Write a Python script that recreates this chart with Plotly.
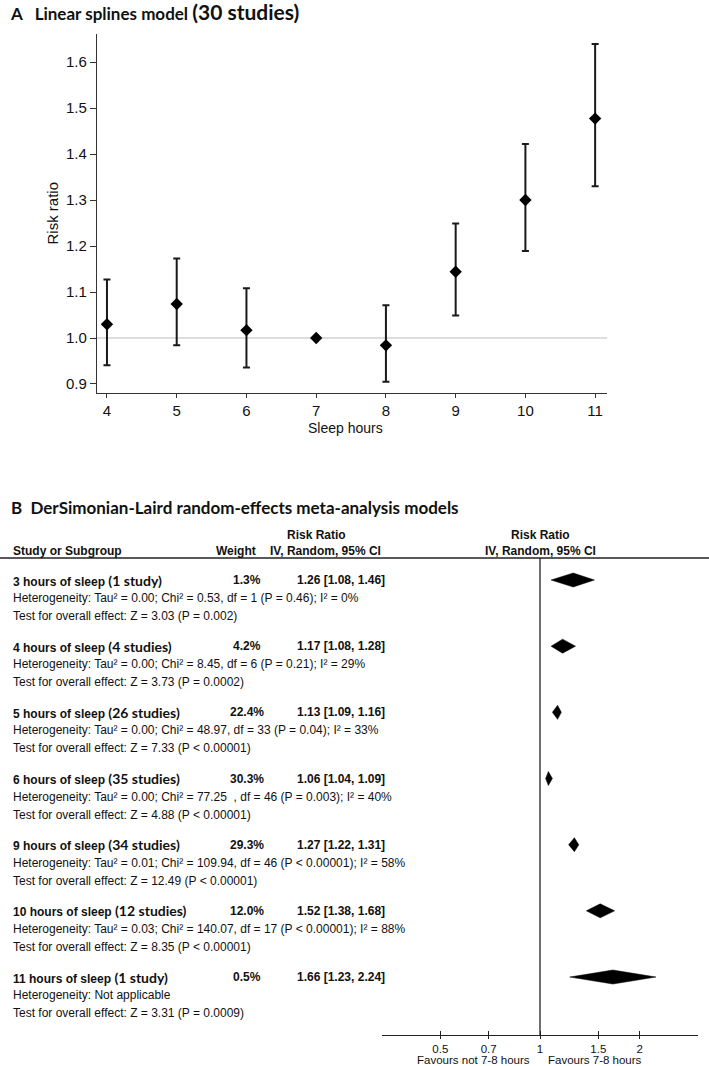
import math
import plotly.graph_objects as go

W, H = 709, 1066

# ---------------- Panel A data ----------------
hours = [4, 5, 6, 7, 8, 9, 10, 11]
rr = [1.030, 1.074, 1.017, 1.000, 0.984, 1.144, 1.300, 1.477]
rr_lo = [0.941, 0.984, 0.936, None, 0.905, 1.049, 1.189, 1.330]
rr_hi = [1.127, 1.173, 1.108, None, 1.071, 1.249, 1.422, 1.639]
a_yticks = [0.9, 1.0, 1.1, 1.2, 1.3, 1.4, 1.5, 1.6]

# ---------------- Panel B data ----------------
groups = ["3 hours of sleep", "4 hours of sleep", "5 hours of sleep", "6 hours of sleep",
          "9 hours of sleep", "10 hours of sleep", "11 hours of sleep"]
n_studies = ["(1 study)", "(4 studies)", "(26 studies)", "(35 studies)",
             "(34 studies)", "(12 studies)", "(1 study)"]
weights = ["1.3%", "4.2%", "22.4%", "30.3%", "29.3%", "12.0%", "0.5%"]
est = [1.26, 1.17, 1.13, 1.06, 1.27, 1.52, 1.66]
ci_lo = [1.08, 1.08, 1.09, 1.04, 1.22, 1.38, 1.23]
ci_hi = [1.46, 1.28, 1.16, 1.09, 1.31, 1.68, 2.24]
het = [
    "Heterogeneity: Tau² = 0.00; Chi² = 0.53, df = 1 (P = 0.46); I² = 0%",
    "Heterogeneity: Tau² = 0.00; Chi² = 8.45, df = 6 (P = 0.21); I² = 29%",
    "Heterogeneity: Tau² = 0.00; Chi² = 48.97, df = 33 (P = 0.04); I² = 33%",
    "Heterogeneity: Tau² = 0.00; Chi² = 77.25  , df = 46 (P = 0.003); I² = 40%",
    "Heterogeneity: Tau² = 0.01; Chi² = 109.94, df = 46 (P < 0.00001); I² = 58%",
    "Heterogeneity: Tau² = 0.03; Chi² = 140.07, df = 17 (P < 0.00001); I² = 88%",
    "Heterogeneity: Not applicable",
]
tests = [
    "Test for overall effect: Z = 3.03 (P = 0.002)",
    "Test for overall effect: Z = 3.73 (P = 0.0002)",
    "Test for overall effect: Z = 7.33 (P < 0.00001)",
    "Test for overall effect: Z = 4.88 (P < 0.00001)",
    "Test for overall effect: Z = 12.49 (P < 0.00001)",
    "Test for overall effect: Z = 8.35 (P < 0.00001)",
    "Test for overall effect: Z = 3.31 (P = 0.0009)",
]
b_ticks = [0.5, 0.7, 1, 1.5, 2]
b_ticktext = ["0.5", "0.7", "1", "1.5", "2"]
NULL_RR = 1.0

ARIAL = "Liberation Sans, Arial, sans-serif"
CAL = "Lato, Calibri, sans-serif"
INK = "#111111"

def px_x(p):
    return p / W

def px_y(p):
    return 1 - p / H

fig = go.Figure()

# ---------- Panel A ----------
err_plus = [None if h is None else h - r for h, r in zip(rr_hi, rr)]
err_minus = [None if l is None else r - l for l, r in zip(rr_lo, rr)]
fig.add_trace(go.Scatter(
    x=hours, y=rr, mode="markers",
    marker=dict(symbol="diamond", size=9.5, color="black"),
    error_y=dict(type="data", symmetric=False, array=err_plus, arrayminus=err_minus,
                 thickness=2, width=3.5, color="#1a1a1a"),
    xaxis="x", yaxis="y", showlegend=False, hoverinfo="skip",
))
fig.add_shape(type="line", xref="x domain", x0=0, x1=1, yref="y", y0=NULL_RR, y1=NULL_RR,
              line=dict(color="#d2d2d2", width=1.5), layer="below")

# ---------- Panel B ----------
HALF_H = 7 / 66.17
dx, dy = [], []
for i, (e, lo, hi) in enumerate(zip(est, ci_lo, ci_hi)):
    dx += [math.log10(lo), math.log10(e), math.log10(hi), math.log10(e), math.log10(lo), None]
    dy += [i, i - HALF_H, i, i + HALF_H, i, None]
fig.add_trace(go.Scatter(
    x=dx, y=dy, mode="lines", fill="toself", fillcolor="black",
    line=dict(color="black", width=0.5), xaxis="x2", yaxis="y2",
    showlegend=False, hoverinfo="skip",
))
fig.add_trace(go.Scatter(x=[None], y=[None], xaxis="x3", yaxis="y2",
                         showlegend=False, hoverinfo="skip"))
fig.add_shape(type="line", xref="x2", x0=math.log10(NULL_RR), x1=math.log10(NULL_RR),
              yref="y2 domain", y0=0, y1=1, line=dict(color="#222", width=1.3))
fig.add_shape(type="line", xref="paper", x0=0, x1=1, yref="paper",
              y0=px_y(558), y1=px_y(558), line=dict(color="#222", width=1.5))

ann = []
# Panel A titles
ann.append(dict(text="<b>A\u00a0\u00a0 Linear splines model <span style='font-size:21px'>(30 studies)</span></b>",
                x=px_x(8), y=px_y(12), xref="paper", yref="paper", xanchor="left", yanchor="middle",
                showarrow=False, font=dict(family=CAL, size=17, color=INK)))
ann.append(dict(text="Risk ratio", textangle=-90, x=px_x(52), y=px_y(213.5), xref="paper", yref="paper",
                xanchor="center", yanchor="middle",
                showarrow=False, font=dict(family=ARIAL, size=15, color=INK)))
ann.append(dict(text="Sleep hours", x=px_x(345), y=px_y(428), xref="paper", yref="paper",
                xanchor="center", yanchor="middle",
                showarrow=False, font=dict(family=ARIAL, size=14, color=INK)))

# Panel B title + headers
ann.append(dict(text="<b>B\u00a0 DerSimonian-Laird random-effects meta-analysis models</b>",
                x=px_x(9), y=px_y(507), xref="paper", yref="paper", xanchor="left", yanchor="middle",
                showarrow=False, font=dict(family=CAL, size=17, color=INK)))
hdr = dict(xref="paper", yref="paper", yanchor="middle", showarrow=False,
           font=dict(family=ARIAL, size=12, color=INK))
ann.append(dict(hdr, text="<b>Study or Subgroup</b>", x=px_x(11), y=px_y(551), xanchor="left"))
ann.append(dict(hdr, text="<b>Weight</b>", x=px_x(258), y=px_y(551), xanchor="right"))
ann.append(dict(hdr, text="<b>Risk Ratio</b>", x=px_x(316), y=px_y(535), xanchor="center"))
ann.append(dict(hdr, text="<b>IV, Random, 95% CI</b>", x=px_x(325), y=px_y(551), xanchor="center"))
ann.append(dict(hdr, text="<b>Risk Ratio</b>", x=px_x(540), y=px_y(535), xanchor="center"))
ann.append(dict(hdr, text="<b>IV, Random, 95% CI</b>", x=px_x(540), y=px_y(551), xanchor="center"))

row = dict(xref="paper", yref="y2", yanchor="middle", showarrow=False,
           font=dict(family=ARIAL, size=12, color=INK))
OFF1, OFF2 = 18 / 66.17, 36 / 66.17
for i in range(len(groups)):
    ann.append(dict(row, x=px_x(11), y=i, xanchor="left",
                    text=f"<b>{groups[i]} <span style='font-family:Lato;font-size:14px'>{n_studies[i]}</span></b>"))
    ann.append(dict(row, x=px_x(247), y=i, xanchor="center", text=f"<b>{weights[i]}</b>"))
    ann.append(dict(row, x=px_x(387), y=i, xanchor="right",
                    text=f"<b>{est[i]:.2f} [{ci_lo[i]:.2f}, {ci_hi[i]:.2f}]</b>"))
    ann.append(dict(row, x=px_x(11), y=i + OFF1, xanchor="left", text=het[i]))
    ann.append(dict(row, x=px_x(11), y=i + OFF2, xanchor="left", text=tests[i]))

ann.append(dict(text="Favours not 7-8 hours", x=math.log10(NULL_RR), xref="x2", xanchor="right", xshift=-8,
                y=px_y(1060), yref="paper", yanchor="middle", showarrow=False,
                font=dict(family=ARIAL, size=11.5, color=INK)))
ann.append(dict(text="Favours 7-8 hours", x=math.log10(NULL_RR), xref="x2", xanchor="left", xshift=6,
                y=px_y(1060), yref="paper", yanchor="middle", showarrow=False,
                font=dict(family=ARIAL, size=11.5, color=INK)))

fig.update_layout(
    width=W, height=H, autosize=False,
    margin=dict(l=0, r=0, t=0, b=0),
    paper_bgcolor="white", plot_bgcolor="white",
    annotations=ann,
    xaxis=dict(domain=[px_x(97), px_x(607)], anchor="y", range=[3.857, 11.17],
               tickmode="array", tickvals=hours, ticks="outside", ticklen=4, tickwidth=1,
               tickcolor="#333", showline=True, linecolor="#333", linewidth=1.2,
               showgrid=False, zeroline=False,
               tickfont=dict(family=ARIAL, size=15, color=INK)),
    yaxis=dict(domain=[px_y(393), px_y(34)], anchor="x", range=[0.8804, 1.661],
               tickmode="array", tickvals=a_yticks, tickformat=".1f", ticks="outside",
               ticklen=6, tickwidth=1, tickcolor="#333", showline=True, linecolor="#333",
               linewidth=1.2, showgrid=False, zeroline=False,
               tickfont=dict(family=ARIAL, size=15, color=INK)),
    xaxis2=dict(domain=[px_x(382), px_x(698)], anchor="y2",
                range=[math.log10(1 / 3), math.log10(3)],
                tickmode="array", tickvals=[math.log10(t) for t in b_ticks], ticktext=b_ticktext,
                ticks="outside", ticklen=3, tickwidth=1.2, tickcolor="#222",
                showline=True, linecolor="#222", linewidth=1.2, showgrid=False, zeroline=False,
                tickfont=dict(family=ARIAL, size=11.5, color=INK)),
    xaxis3=dict(overlaying="x2", anchor="y2", matches="x2",
                tickmode="array", tickvals=[math.log10(t) for t in b_ticks],
                ticks="inside", ticklen=4, tickwidth=1.2, tickcolor="#222",
                showticklabels=False, showline=False, showgrid=False, zeroline=False),
    yaxis2=dict(domain=[px_y(1035), px_y(558)], anchor="x2", range=[6.876, -0.3325],
                visible=False, showgrid=False, zeroline=False),
)

fig.write_html("out.html", config={"displayModeBar": False},
               post_script="document.body.style.margin='0';document.body.style.overflow='hidden';")
